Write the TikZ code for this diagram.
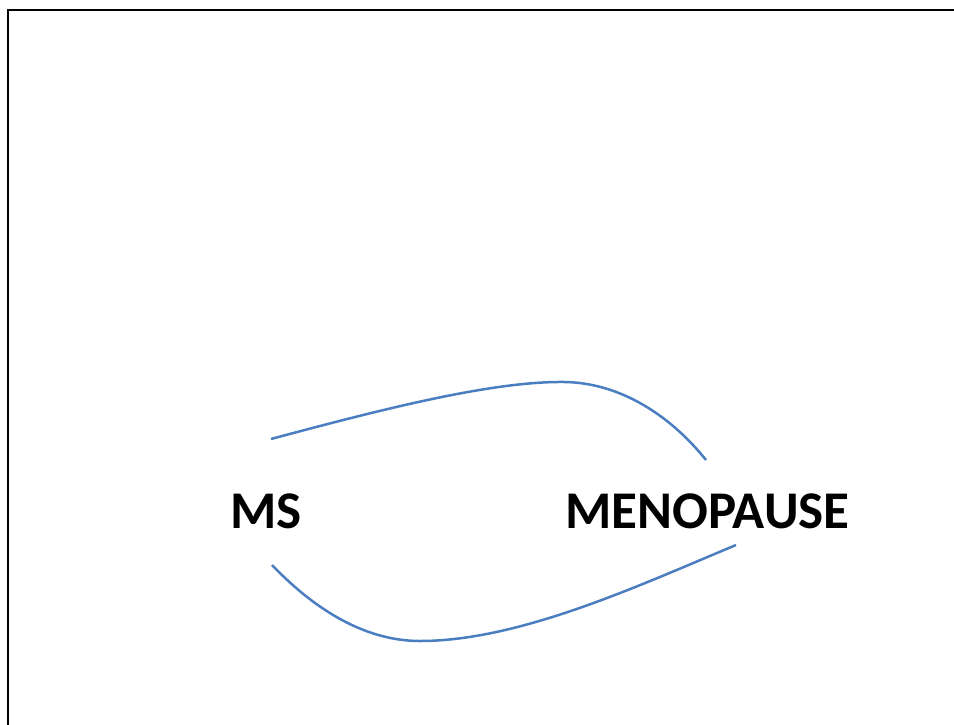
\documentclass[tikz,border=0pt]{standalone}
\usepackage{fontspec}
\setmainfont{Carlito}
\definecolor{curveblue}{RGB}{74,126,193}
\begin{document}
\begin{tikzpicture}[x=1pt,y=-1pt,
  lbl/.style={font=\bfseries\fontsize{53}{60}\selectfont, inner sep=0pt, anchor=base},
  link/.style={draw=curveblue, line width=2.5pt, line cap=butt}]
\useasboundingbox (0,0) rectangle (954,724);
\draw[line width=2.6pt, line cap=rect] (8,724) -- (8,10) -- (954,10);
\node[lbl] (ms) at (266,528) {MS};
\node[lbl] (meno) at (707.5,528) {MENOPAUSE};
\coordinate (a1) at (271,439);
\coordinate (a2) at (706,460);
\coordinate (b1) at (272,565);
\coordinate (b2) at (736,545);
\draw[link] (a1) .. controls (390,407) and (495,381) .. (565,382)
  .. controls (620,383) and (670,415) .. (a2);
\draw[link] (b1) .. controls (320,615) and (370,641) .. (420,641)
  .. controls (520,641) and (640,585) .. (b2);
\end{tikzpicture}
\end{document}
